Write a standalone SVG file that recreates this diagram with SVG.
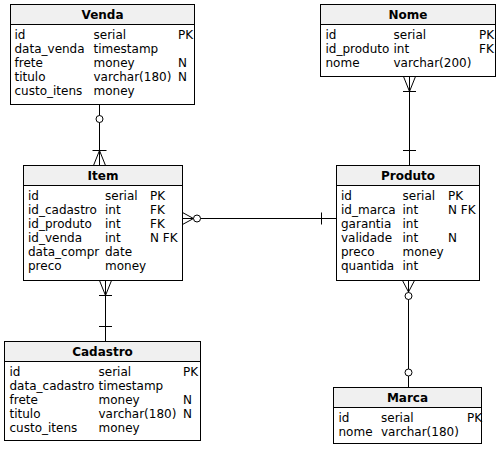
<svg xmlns="http://www.w3.org/2000/svg" width="499" height="450" viewBox="0 0 499 450">
<style>
.box{fill:#ffffff;stroke:#000000;stroke-width:1}
.hd{fill:#f0f0f0;stroke:#000000;stroke-width:1}
.ttl{font-family:"DejaVu Sans",sans-serif;font-size:12px;font-weight:bold;fill:#000000;text-anchor:middle}
.t{font-family:"DejaVu Sans",sans-serif;font-size:12px;fill:#000000}
.ln{fill:none;stroke:#000000;stroke-width:1}
.o{fill:#ffffff;stroke:#000000;stroke-width:1}
</style>
<rect width="499" height="450" fill="#ffffff"/>

<g id="connectors">
  <!-- Venda - Item -->
  <path class="ln" d="M99.5 104.5V165.5M92.5 150.5H106.5M93.5 165.5L99.5 150.5L105.5 165.5"/>
  <circle class="o" cx="99.5" cy="119" r="3.5"/>
  <!-- Nome - Produto -->
  <path class="ln" d="M409.5 76.5V165.5M403.5 76.5L409.5 91.5L415.5 76.5M403 91.5H416M403 150.5H416"/>
  <!-- Item - Produto -->
  <path class="ln" d="M182.5 218.5H336.5M182.5 212.5L193.5 218.5L182.5 224.5M321.5 212.5V224.5"/>
  <circle class="o" cx="197" cy="218.5" r="3.5"/>
  <!-- Item - Cadastro -->
  <path class="ln" d="M105.5 280.5V341.5M99.5 280.5L105.5 295.5L111.5 280.5M99 295.5H112M99 326.5H112"/>
  <!-- Produto - Marca -->
  <path class="ln" d="M408.5 280.5V387.5M402.5 280.5L408.5 292L414.5 280.5"/>
  <circle class="o" cx="408.5" cy="296" r="3.5"/>
  <circle class="o" cx="408.5" cy="372.5" r="3.5"/>
</g>

<g id="Venda">
  <rect class="box" x="10.5" y="4.5" width="184" height="100"/>
  <rect class="hd" x="10.5" y="4.5" width="184" height="20"/>
  <text class="ttl" x="102.5" y="19">Venda</text>
  <text class="t" x="14.5" y="38.5">id</text><text class="t" x="93.5" y="38.5">serial</text><text class="t" x="178" y="38.5">PK</text>
  <text class="t" x="14.5" y="52.5">data_venda</text><text class="t" x="93.5" y="52.5">timestamp</text>
  <text class="t" x="14.5" y="66.5">frete</text><text class="t" x="93.5" y="66.5">money</text><text class="t" x="178" y="66.5">N</text>
  <text class="t" x="14.5" y="80.5">titulo</text><text class="t" x="93.5" y="80.5">varchar(180)</text><text class="t" x="178" y="80.5">N</text>
  <text class="t" x="14.5" y="94.5">custo_itens</text><text class="t" x="93.5" y="94.5">money</text>
</g>

<g id="Nome">
  <rect class="box" x="320.5" y="4.5" width="175" height="72"/>
  <rect class="hd" x="320.5" y="4.5" width="175" height="20"/>
  <text class="ttl" x="408" y="19">Nome</text>
  <text class="t" x="325.5" y="38.5">id</text><text class="t" x="393.5" y="38.5">serial</text><text class="t" x="479" y="38.5">PK</text>
  <text class="t" x="325.5" y="52.5">id_produto</text><text class="t" x="393.5" y="52.5">int</text><text class="t" x="479" y="52.5">FK</text>
  <text class="t" x="325.5" y="66.5">nome</text><text class="t" x="393.5" y="66.5">varchar(200)</text>
</g>

<g id="Item">
  <rect class="box" x="23.5" y="165.5" width="159" height="115"/>
  <rect class="hd" x="23.5" y="165.5" width="159" height="20"/>
  <text class="ttl" x="103" y="180">Item</text>
  <text class="t" x="28" y="199.5">id</text><text class="t" x="105" y="199.5">serial</text><text class="t" x="150" y="199.5">PK</text>
  <text class="t" x="28" y="213.5">id_cadastro</text><text class="t" x="105" y="213.5">int</text><text class="t" x="150" y="213.5">FK</text>
  <text class="t" x="28" y="227.5">id_produto</text><text class="t" x="105" y="227.5">int</text><text class="t" x="150" y="227.5">FK</text>
  <text class="t" x="28" y="241.5">id_venda</text><text class="t" x="105" y="241.5">int</text><text class="t" x="150" y="241.5">N FK</text>
  <text class="t" x="28" y="255.5">data_compr</text><text class="t" x="105" y="255.5">date</text>
  <text class="t" x="28" y="269.5">preco</text><text class="t" x="105" y="269.5">money</text>
</g>

<g id="Produto">
  <rect class="box" x="336.5" y="165.5" width="143" height="115"/>
  <rect class="hd" x="336.5" y="165.5" width="143" height="20"/>
  <text class="ttl" x="408" y="180">Produto</text>
  <text class="t" x="341" y="199.5">id</text><text class="t" x="402.5" y="199.5">serial</text><text class="t" x="448" y="199.5">PK</text>
  <text class="t" x="341" y="213.5">id_marca</text><text class="t" x="402.5" y="213.5">int</text><text class="t" x="448" y="213.5">N FK</text>
  <text class="t" x="341" y="227.5">garantia</text><text class="t" x="402.5" y="227.5">int</text>
  <text class="t" x="341" y="241.5">validade</text><text class="t" x="402.5" y="241.5">int</text><text class="t" x="448" y="241.5">N</text>
  <text class="t" x="341" y="255.5">preco</text><text class="t" x="402.5" y="255.5">money</text>
  <text class="t" x="341" y="269.5">quantida</text><text class="t" x="402.5" y="269.5">int</text>
</g>

<g id="Cadastro">
  <rect class="box" x="4.5" y="341.5" width="196" height="99"/>
  <rect class="hd" x="4.5" y="341.5" width="196" height="20"/>
  <text class="ttl" x="102.5" y="356">Cadastro</text>
  <text class="t" x="9.5" y="375.5">id</text><text class="t" x="98.5" y="375.5">serial</text><text class="t" x="183" y="375.5">PK</text>
  <text class="t" x="9.5" y="389.5">data_cadastro</text><text class="t" x="98.5" y="389.5">timestamp</text>
  <text class="t" x="9.5" y="403.5">frete</text><text class="t" x="98.5" y="403.5">money</text><text class="t" x="183" y="403.5">N</text>
  <text class="t" x="9.5" y="417.5">titulo</text><text class="t" x="98.5" y="417.5">varchar(180)</text><text class="t" x="183" y="417.5">N</text>
  <text class="t" x="9.5" y="431.5">custo_itens</text><text class="t" x="98.5" y="431.5">money</text>
</g>

<g id="Marca">
  <rect class="box" x="333.5" y="387.5" width="148" height="56"/>
  <rect class="hd" x="333.5" y="387.5" width="148" height="20"/>
  <text class="ttl" x="407.5" y="402">Marca</text>
  <text class="t" x="338.5" y="421.5">id</text><text class="t" x="381" y="421.5">serial</text><text class="t" x="467" y="421.5">PK</text>
  <text class="t" x="338.5" y="435.5">nome</text><text class="t" x="381" y="435.5">varchar(180)</text>
</g>
</svg>
